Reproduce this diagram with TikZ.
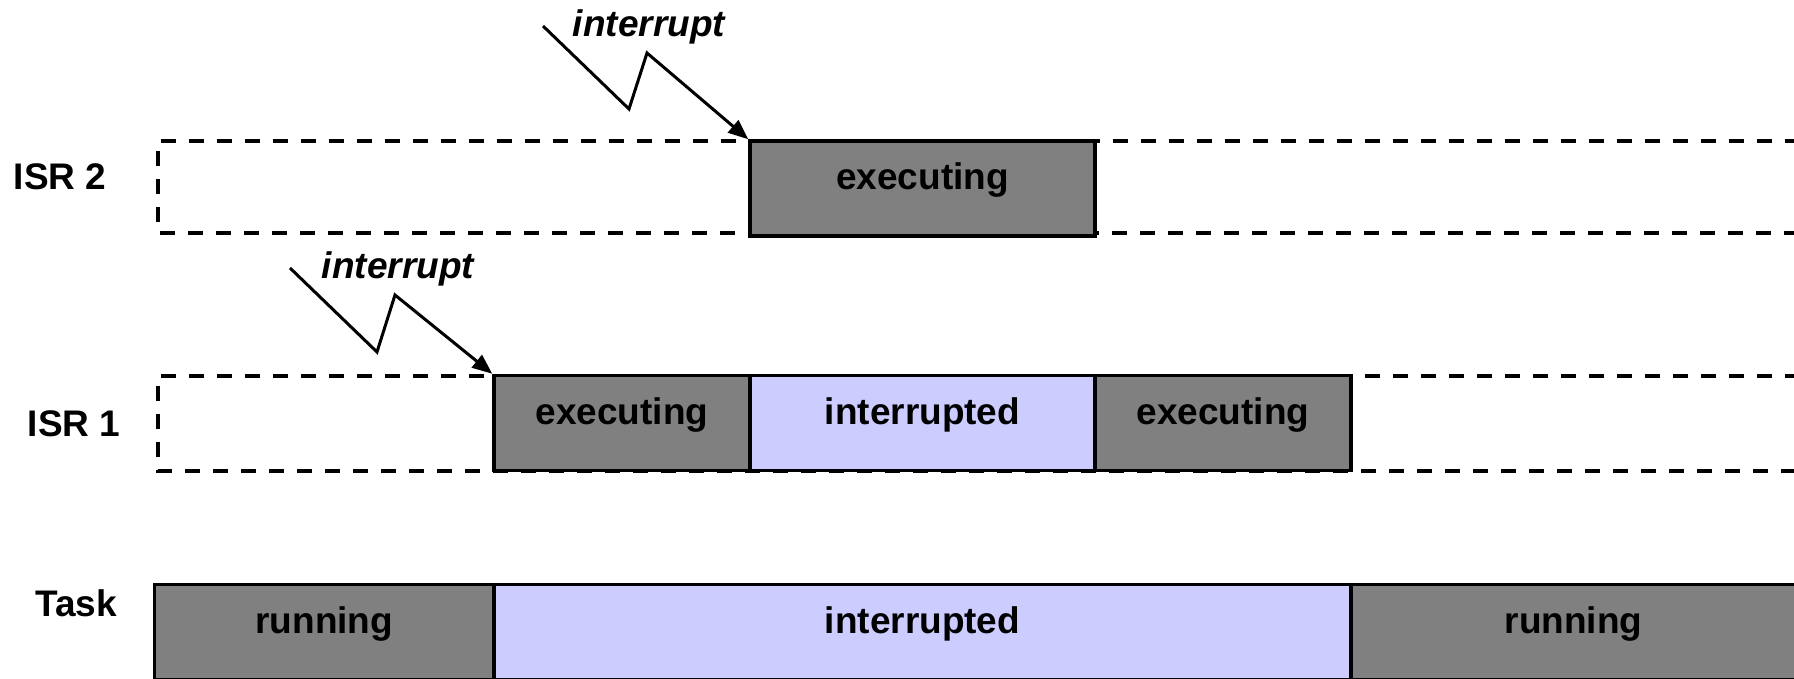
\documentclass[tikz,border=0pt]{standalone}
\usepackage{fontspec}
\setmainfont{Liberation Sans}
\usepackage{tikz}
\usetikzlibrary{arrows.meta}

\definecolor{busygray}{HTML}{808080}
\definecolor{idleblue}{HTML}{CCCCFF}
\newcommand{\diagfont}{\fontsize{18.5}{22}\selectfont}

\begin{document}
\begin{tikzpicture}[x=0.5pt, y=-0.5pt, font=\diagfont\bfseries,
    lane/.style={line width=2pt, dash pattern=on 7.5pt off 6.5pt},
    slot/.style={draw, line width=1.75pt, inner sep=0pt, minimum height=47.5pt, text height=24.5pt, text depth=23pt},
    busy/.style={slot, fill=busygray},
    idle/.style={slot, fill=idleblue},
    irq/.style={line width=1.5pt, line join=miter, -{Triangle[length=10pt, width=8pt]}}]
    \useasboundingbox (0,0) rectangle (1794,679);

    \draw[lane] (1800,141) -| (158,233) -- (1800,233);
    \draw[lane] (1800,375.5) -| (158,470.5) -- (1800,470.5);

    \node (isr2lbl) at (60,177) {ISR 2};
    \node (isr1lbl) at (74,424) {ISR 1};
    \node (tasklbl) at (76,603) {Task};

    \node[busy, minimum width=172.5pt] (isr2exec) at (922.5,188.5) {executing};

    \node[busy, minimum width=128pt] (isr1execA) at (622,423) {executing};
    \node[idle, minimum width=172.5pt] (isr1wait) at (922.5,423) {interrupted};
    \node[busy, minimum width=128pt] (isr1execB) at (1223,423) {executing};

    \node[busy, minimum width=169.75pt] (taskrunA) at (324.25,632) {running};
    \node[idle, minimum width=428.5pt] (taskwait) at (922.5,632) {interrupted};
    \node[busy, minimum width=222.5pt] (taskrunB) at (1573.5,632) {running};

    \node[font=\diagfont\bfseries\itshape] (irq2lbl) at (649,27) {interrupt};
    \coordinate (irq2start) at (543,26);
    \draw[irq] (irq2start) -- ++(86,83) -- ++(18,-56) -- (isr2exec.north west);

    \node[font=\diagfont\bfseries\itshape] (irq1lbl) at (398,269) {interrupt};
    \coordinate (irq1start) at (290,268);
    \draw[irq] (irq1start) -- ++(87,84) -- ++(18,-57) -- (isr1execA.north west);
\end{tikzpicture}
\end{document}
